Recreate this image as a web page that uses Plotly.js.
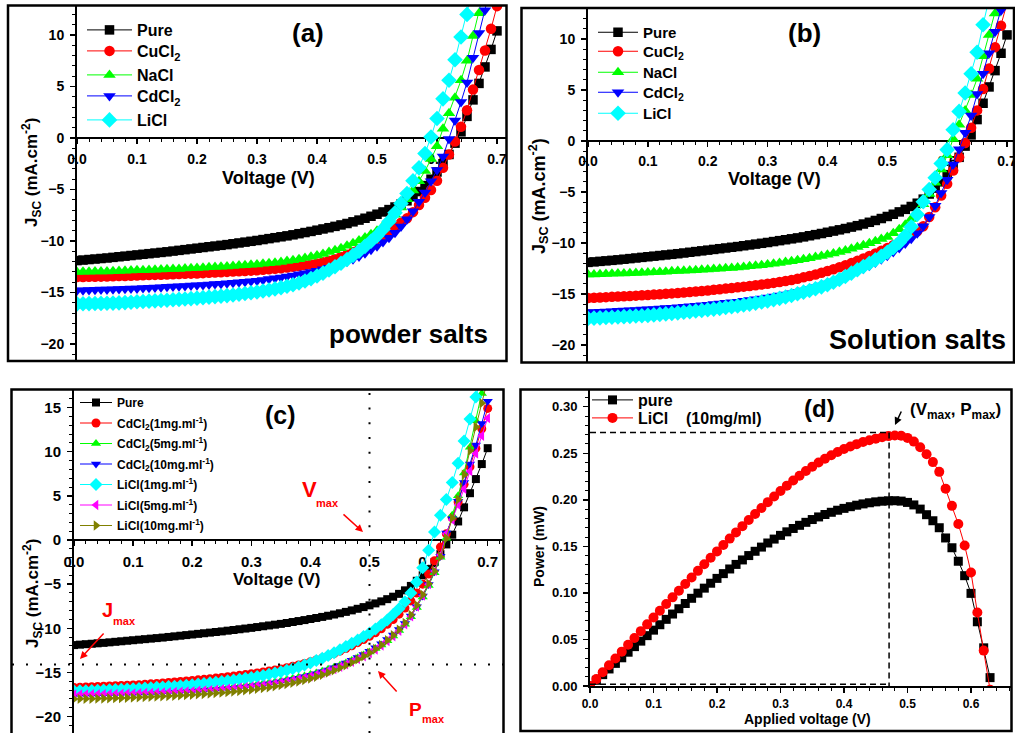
<!DOCTYPE html>
<html><head><meta charset="utf-8">
<script src="https://cdn.plot.ly/plotly-3.0.1.min.js"></script>
<style>body{margin:0;background:#fff}#chart{width:1015px;height:733px}</style>
</head><body><div id="chart"></div>
<script>
// ---------- DATA ----------
const voltage = [0.00,0.01,0.02,0.03,0.04,0.05,0.06,0.07,0.08,0.09,
 0.10,0.11,0.12,0.13,0.14,0.15,0.16,0.17,0.18,0.19,
 0.20,0.21,0.22,0.23,0.24,0.25,0.26,0.27,0.28,0.29,
 0.30,0.31,0.32,0.33,0.34,0.35,0.36,0.37,0.38,0.39,
 0.40,0.41,0.42,0.43,0.44,0.45,0.46,0.47,0.48,0.49,
 0.50,0.51,0.52,0.53,0.54,0.55,0.56,0.57,0.58,0.59,
 0.60,0.61,0.62,0.63,0.64,0.65,0.66,0.67,0.68,0.69,0.70];

const jPure = [-11.90,-11.85,-11.80,-11.75,-11.70,-11.65,-11.59,-11.53,-11.47,-11.41,
 -11.35,-11.29,-11.23,-11.17,-11.11,-11.05,-10.98,-10.91,-10.84,-10.77,
 -10.70,-10.63,-10.56,-10.49,-10.42,-10.35,-10.27,-10.19,-10.11,-10.03,
 -9.95,-9.86,-9.77,-9.68,-9.59,-9.50,-9.40,-9.29,-9.18,-9.07,
 -8.95,-8.83,-8.71,-8.58,-8.44,-8.30,-8.14,-7.97,-7.79,-7.60,
 -7.40,-7.18,-6.95,-6.70,-6.42,-6.10,-5.70,-5.20,-4.62,-4.00,
 -3.30,-2.50,-1.60,-0.50,0.60,2.10,3.70,5.30,6.90,8.60,10.40];

// (a) powder salts
const jPowderCuCl2 = [-13.50,-13.49,-13.48,-13.47,-13.46,-13.45,-13.43,-13.41,-13.39,-13.37,
 -13.35,-13.33,-13.31,-13.29,-13.27,-13.25,-13.23,-13.21,-13.19,-13.17,
 -13.15,-13.12,-13.09,-13.06,-13.03,-13.00,-12.97,-12.94,-12.91,-12.88,
 -12.85,-12.80,-12.75,-12.70,-12.65,-12.58,-12.51,-12.44,-12.36,-12.28,
 -12.19,-12.06,-11.92,-11.76,-11.56,-11.34,-11.08,-10.80,-10.50,-10.17,
 -9.82,-9.45,-9.06,-8.65,-8.23,-7.80,-7.20,-6.50,-5.80,-5.05,
 -4.15,-2.90,-1.60,-0.35,1.10,2.70,4.70,6.60,8.50,10.60,12.80];
const jPowderNaCl = [-13.00,-12.99,-12.98,-12.97,-12.96,-12.95,-12.93,-12.91,-12.89,-12.87,
 -12.85,-12.83,-12.81,-12.79,-12.77,-12.75,-12.73,-12.71,-12.68,-12.65,
 -12.62,-12.59,-12.56,-12.53,-12.50,-12.47,-12.43,-12.39,-12.35,-12.31,
 -12.27,-12.22,-12.16,-12.10,-12.03,-11.95,-11.86,-11.76,-11.65,-11.53,
 -11.40,-11.25,-11.08,-10.90,-10.70,-10.47,-10.22,-9.95,-9.66,-9.35,
 -9.00,-8.55,-8.05,-7.45,-6.75,-5.95,-5.10,-4.20,-3.20,-2.05,
 -0.80,0.90,2.40,3.90,5.60,7.50,9.90,12.10,14.50,17.00,19.50];
const jPowderCdCl2 = [-14.80,-14.78,-14.76,-14.74,-14.72,-14.70,-14.68,-14.66,-14.64,-14.62,
 -14.60,-14.57,-14.54,-14.51,-14.48,-14.45,-14.42,-14.39,-14.36,-14.33,
 -14.30,-14.26,-14.22,-14.18,-14.14,-14.10,-14.05,-14.00,-13.95,-13.90,
 -13.85,-13.78,-13.70,-13.62,-13.54,-13.45,-13.35,-13.24,-13.12,-13.00,
 -12.88,-12.75,-12.60,-12.42,-12.22,-12.00,-11.76,-11.50,-11.20,-10.86,
 -10.50,-10.10,-9.68,-9.20,-8.60,-7.90,-7.10,-6.20,-5.30,-4.20,
 -3.10,-1.80,-0.10,1.70,3.50,5.40,7.80,10.20,12.40,14.80,17.20];
const jPowderLiCl = [-16.10,-16.09,-16.08,-16.07,-16.06,-16.05,-16.03,-16.01,-15.98,-15.94,
 -15.90,-15.87,-15.84,-15.81,-15.78,-15.75,-15.71,-15.67,-15.63,-15.59,
 -15.55,-15.50,-15.45,-15.40,-15.35,-15.30,-15.24,-15.17,-15.10,-15.03,
 -14.95,-14.86,-14.76,-14.65,-14.53,-14.40,-14.25,-14.08,-13.88,-13.65,
 -13.40,-13.12,-12.82,-12.50,-12.16,-11.80,-11.40,-10.98,-10.52,-10.03,
 -9.50,-8.85,-8.10,-7.25,-6.35,-5.40,-4.15,-2.90,-1.50,0.10,
 1.90,3.80,5.60,7.60,9.80,12.00,14.30,16.60,19.00,21.40,23.80];

// (b) solution salts
const jSolCuCl2 = [-15.40,-15.37,-15.34,-15.31,-15.28,-15.25,-15.22,-15.19,-15.16,-15.13,
 -15.10,-15.06,-15.02,-14.98,-14.94,-14.90,-14.85,-14.80,-14.75,-14.70,
 -14.65,-14.59,-14.53,-14.47,-14.41,-14.35,-14.28,-14.21,-14.14,-14.07,
 -14.00,-13.91,-13.82,-13.72,-13.62,-13.50,-13.37,-13.23,-13.08,-12.92,
 -12.75,-12.57,-12.38,-12.18,-11.97,-11.75,-11.52,-11.28,-11.03,-10.77,
 -10.50,-10.22,-9.92,-9.60,-9.25,-8.85,-8.35,-7.45,-6.50,-5.35,
 -4.20,-2.90,-1.60,-0.20,1.30,3.00,5.10,7.10,9.20,11.30,13.50];
const jSolNaCl = [-13.10,-13.08,-13.06,-13.04,-13.02,-13.00,-12.98,-12.96,-12.94,-12.92,
 -12.90,-12.87,-12.84,-12.81,-12.78,-12.75,-12.72,-12.69,-12.66,-12.63,
 -12.60,-12.56,-12.52,-12.48,-12.44,-12.40,-12.35,-12.29,-12.23,-12.17,
 -12.10,-12.03,-11.95,-11.87,-11.79,-11.70,-11.60,-11.49,-11.38,-11.27,
 -11.15,-11.02,-10.88,-10.73,-10.57,-10.40,-10.22,-10.03,-9.83,-9.62,
 -9.40,-9.05,-8.65,-8.20,-7.65,-7.00,-6.20,-5.20,-4.10,-2.80,
 -1.40,0.20,1.60,3.00,4.50,6.10,8.30,10.40,12.50,14.70,17.00];
const jSolCdCl2 = [-16.80,-16.77,-16.74,-16.71,-16.68,-16.65,-16.62,-16.59,-16.56,-16.53,
 -16.50,-16.46,-16.42,-16.38,-16.34,-16.30,-16.25,-16.20,-16.15,-16.10,
 -16.05,-15.99,-15.93,-15.87,-15.81,-15.75,-15.67,-15.59,-15.51,-15.43,
 -15.35,-15.25,-15.15,-15.04,-14.92,-14.80,-14.66,-14.51,-14.35,-14.17,
 -13.98,-13.77,-13.55,-13.31,-13.06,-12.80,-12.52,-12.23,-11.92,-11.60,
 -11.25,-10.88,-10.48,-10.05,-9.58,-9.05,-8.35,-7.45,-6.35,-5.10,
 -3.80,-2.30,-0.80,0.80,2.50,4.60,6.60,8.60,10.70,12.80,15.00];
const jSolLiCl = [-17.40,-17.37,-17.34,-17.31,-17.28,-17.25,-17.22,-17.19,-17.16,-17.13,
 -17.10,-17.05,-17.00,-16.95,-16.90,-16.85,-16.79,-16.73,-16.67,-16.61,
 -16.55,-16.48,-16.41,-16.33,-16.25,-16.17,-16.08,-15.99,-15.89,-15.79,
 -15.68,-15.56,-15.43,-15.29,-15.14,-14.98,-14.82,-14.65,-14.48,-14.30,
 -14.10,-13.85,-13.58,-13.28,-12.95,-12.62,-12.30,-11.98,-11.65,-11.30,
 -10.90,-10.45,-9.95,-9.30,-8.40,-7.20,-5.95,-4.75,-3.60,-2.20,
 -0.85,1.10,2.90,4.70,6.60,8.70,11.40,14.00,16.50,19.00,21.50];

// (c) concentration series
const jCdCl2_1 = [-16.70,-16.68,-16.65,-16.62,-16.59,-16.56,-16.53,-16.50,-16.47,-16.45,
 -16.42,-16.38,-16.34,-16.29,-16.24,-16.19,-16.14,-16.08,-16.02,-15.96,
 -15.90,-15.84,-15.78,-15.71,-15.64,-15.57,-15.49,-15.41,-15.33,-15.24,
 -15.15,-15.05,-14.95,-14.84,-14.72,-14.60,-14.46,-14.31,-14.15,-13.98,
 -13.80,-13.59,-13.37,-13.13,-12.87,-12.59,-12.29,-11.97,-11.63,-11.27,
 -10.90,-10.50,-10.05,-9.55,-9.00,-8.40,-7.70,-6.90,-6.00,-5.00,
 -3.85,-2.35,-0.80,0.70,2.50,4.30,6.30,8.30,10.40,12.60,14.90];
const jCdCl2_5 = [-17.30,-17.29,-17.28,-17.27,-17.26,-17.25,-17.24,-17.23,-17.21,-17.19,
 -17.17,-17.15,-17.13,-17.11,-17.09,-17.07,-17.04,-17.01,-16.98,-16.95,
 -16.92,-16.88,-16.84,-16.80,-16.75,-16.70,-16.65,-16.59,-16.53,-16.46,
 -16.39,-16.31,-16.23,-16.14,-16.04,-15.93,-15.81,-15.68,-15.54,-15.39,
 -15.23,-15.05,-14.86,-14.65,-14.42,-14.18,-13.92,-13.64,-13.34,-13.02,
 -12.68,-12.30,-11.88,-11.40,-10.86,-10.25,-9.55,-8.70,-7.65,-6.45,
 -5.15,-3.70,-1.95,0.20,2.80,5.00,7.60,10.50,13.50,16.60,19.70];
const jCdCl2_10 = [-17.60,-17.59,-17.58,-17.57,-17.56,-17.55,-17.54,-17.52,-17.50,-17.48,
 -17.46,-17.44,-17.42,-17.40,-17.37,-17.34,-17.31,-17.28,-17.25,-17.21,
 -17.17,-17.13,-17.08,-17.03,-16.98,-16.93,-16.87,-16.81,-16.74,-16.67,
 -16.59,-16.50,-16.41,-16.31,-16.20,-16.08,-15.95,-15.81,-15.66,-15.50,
 -15.33,-15.14,-14.93,-14.71,-14.47,-14.21,-13.93,-13.63,-13.31,-12.97,
 -12.60,-12.20,-11.76,-11.28,-10.75,-10.15,-9.45,-8.60,-7.55,-6.35,
 -5.05,-3.60,-1.85,0.80,2.40,4.40,6.50,8.60,10.75,13.20,15.70];
const jLiCl_1 = [-17.10,-17.08,-17.06,-17.04,-17.02,-17.00,-16.97,-16.94,-16.91,-16.88,
 -16.85,-16.81,-16.77,-16.73,-16.69,-16.65,-16.60,-16.55,-16.50,-16.44,
 -16.38,-16.32,-16.25,-16.18,-16.11,-16.03,-15.95,-15.86,-15.77,-15.67,
 -15.57,-15.46,-15.34,-15.21,-15.07,-14.92,-14.76,-14.58,-14.38,-14.16,
 -13.92,-13.66,-13.38,-13.08,-12.76,-12.42,-12.06,-11.70,-11.32,-10.93,
 -10.52,-10.08,-9.60,-9.05,-8.45,-7.80,-7.00,-6.00,-4.75,-3.15,
 -1.15,0.90,2.80,4.60,6.50,8.70,11.20,13.70,16.20,18.70,21.20];
const jLiCl_5 = [-17.50,-17.49,-17.48,-17.47,-17.46,-17.45,-17.44,-17.43,-17.41,-17.39,
 -17.37,-17.35,-17.33,-17.31,-17.29,-17.27,-17.24,-17.21,-17.18,-17.15,
 -17.12,-17.08,-17.04,-17.00,-16.95,-16.90,-16.85,-16.79,-16.73,-16.66,
 -16.59,-16.51,-16.43,-16.34,-16.24,-16.13,-16.01,-15.88,-15.74,-15.59,
 -15.43,-15.25,-15.05,-14.84,-14.61,-14.36,-14.09,-13.80,-13.49,-13.16,
 -12.80,-12.40,-11.95,-11.45,-10.90,-10.28,-9.55,-8.65,-7.55,-6.30,
 -5.00,-3.50,-1.70,0.70,2.30,4.00,5.80,7.80,9.80,11.80,13.80];
const jLiCl_10 = [-18.00,-17.99,-17.98,-17.97,-17.96,-17.95,-17.93,-17.91,-17.89,-17.87,
 -17.85,-17.82,-17.79,-17.76,-17.73,-17.70,-17.67,-17.64,-17.60,-17.56,
 -17.52,-17.48,-17.44,-17.39,-17.34,-17.29,-17.23,-17.17,-17.10,-17.03,
 -16.95,-16.86,-16.77,-16.67,-16.56,-16.44,-16.31,-16.17,-16.02,-15.86,
 -15.68,-15.48,-15.26,-15.02,-14.76,-14.48,-14.18,-13.86,-13.52,-13.16,
 -12.78,-12.35,-11.88,-11.35,-10.78,-10.15,-9.40,-8.50,-7.40,-6.20,
 -4.95,-3.55,-1.90,0.20,2.50,4.60,7.40,10.10,12.80,15.50,18.20];

// (d) power curves (0.00 .. 0.63 V)
const powerVoltage = voltage.slice(0, 64);
const powerPure = [0.0000,0.0061,0.0122,0.0183,0.0243,0.0303,0.0363,0.0423,0.0482,0.0541,
 0.0600,0.0658,0.0716,0.0773,0.0830,0.0886,0.0942,0.0997,0.1051,0.1104,
 0.1156,0.1207,0.1257,0.1306,0.1354,0.1401,0.1447,0.1492,0.1536,0.1578,
 0.1618,0.1656,0.1692,0.1726,0.1758,0.1788,0.1816,0.1842,0.1866,0.1888,
 0.1908,0.1926,0.1942,0.1956,0.1968,0.1978,0.1985,0.1989,0.1990,0.1986,
 0.1972,0.1945,0.1900,0.1840,0.1775,0.1700,0.1590,0.1485,0.1340,0.1185,
 0.0995,0.0690,0.0410,0.0090];
const powerLiCl = [0.0000,0.0074,0.0148,0.0222,0.0296,0.0369,0.0443,0.0516,0.0589,0.0662,
 0.0735,0.0808,0.0880,0.0952,0.1024,0.1095,0.1166,0.1237,0.1307,0.1377,
 0.1446,0.1515,0.1583,0.1650,0.1717,0.1783,0.1848,0.1912,0.1975,0.2036,
 0.2095,0.2152,0.2207,0.2259,0.2309,0.2356,0.2400,0.2441,0.2479,0.2514,
 0.2545,0.2573,0.2598,0.2620,0.2640,0.2657,0.2672,0.2684,0.2690,0.2688,
 0.2665,0.2625,0.2565,0.2490,0.2405,0.2300,0.2120,0.1935,0.1740,0.1510,
 0.1220,0.0790,0.0380,-0.0040];
const vMax = 0.471, pMax = 0.2722;
const jMaxLine = -14.1, vMaxLine = 0.5;

// ---------- LAYOUT HELPERS ----------
const W = 1015, H = 733;
const px = v => v / W, py = v => 1 - v / H;
const FONT = 'Liberation Sans, Arial, Helvetica, sans-serif';
const bold = (size, color) => ({family: FONT, size: size, color: color || '#000', weight: 'bold'});

// panel pixel geometry (plot area) and calibration
const G = {
  a: {l: 77, r: 506, t: 6, b: 361, x0: 77, xs: 600, y0: 138, ys: 10.3},
  b: {l: 588, r: 1014, t: 8, b: 362, x0: 588, xs: 598.6, y0: 141, ys: 10.2},
  c: {l: 74, r: 503, t: 390, b: 733, x0: 74, xs: 591, y0: 540, ys: 8.83},
  d: {l: 590, r: 1011, t: 390, b: 686, x0: 590, xs: 635, y0: 686, ys: 931}
};
function xRange(g) { return [(g.l - g.x0) / g.xs, (g.r - g.x0) / g.xs]; }
function yRange(g) { return [(g.y0 - g.b) / g.ys, (g.y0 - g.t) / g.ys]; }

function xAxisCfg(g, free, tf, minor, fs, so) {
  const c = {
    domain: [px(g.l), px(g.r)], range: xRange(g), showline: true, linewidth: 2, linecolor: '#000',
    ticks: 'outside', ticklen: 5, tickwidth: 1.5, tickcolor: '#000', dtick: 0.1, tick0: 0, tickformat: tf,
    tickfont: bold(fs), showgrid: false, zeroline: false, layer: 'below traces', ticklabelstandoff: so,
    ticklabeloverflow: 'allow',
    minor: {dtick: minor, ticklen: 3, tickwidth: 1, ticks: 'outside', tickcolor: '#000', showgrid: false}
  };
  if (free) { c.anchor = 'free'; c.position = py(g.y0); }
  return c;
}
function yAxisCfg(g, dt, tf, minor, fs) {
  return {
    domain: [py(g.b), py(g.t)], range: yRange(g), showline: true, linewidth: 2, linecolor: '#000',
    ticks: 'outside', ticklen: 5, tickwidth: 1.5, tickcolor: '#000', dtick: dt, tick0: 0, tickformat: tf,
    tickfont: bold(fs), showgrid: false, zeroline: false, layer: 'below traces', ticklabelstandoff: 3,
    ticklabeloverflow: 'allow',
    minor: {dtick: minor, ticklen: 3, tickwidth: 1, ticks: 'outside', tickcolor: '#000', showgrid: false}
  };
}

function tr(x, y, name, sym, color, size, ax, leg, grp) {
  return {
    type: 'scatter', mode: 'lines+markers', x: x, y: y, name: name,
    xaxis: 'x' + ax, yaxis: 'y' + ax, legend: leg, legendgroup: grp || name,
    line: {color: color, width: 1},
    marker: {symbol: sym, color: color, size: size, line: {width: 0}}
  };
}

const traces = [
  // (a)
  tr(voltage, jPure, 'Pure', 'square', '#000000', 9.5, '', 'legend', 'a1'),
  tr(voltage, jPowderCuCl2, 'CuCl<sub>2</sub>', 'circle', '#ff0000', 10.5, '', 'legend6', 'a2'),
  tr(voltage, jPowderNaCl, 'NaCl', 'triangle-up', '#00ff00', 11, '', 'legend7', 'a3'),
  tr(voltage, jPowderCdCl2, 'CdCl<sub>2</sub>', 'triangle-down', '#0000ff', 11, '', 'legend8', 'a4'),
  tr(voltage, jPowderLiCl, 'LiCl', 'diamond', '#00ffff', 12, '', 'legend9', 'a5'),
  // (b)
  tr(voltage, jPure, 'Pure', 'square', '#000000', 9.5, '2', 'legend2', 'b1'),
  tr(voltage, jSolCuCl2, 'CuCl<sub>2</sub>', 'circle', '#ff0000', 10.5, '2', 'legend10', 'b2'),
  tr(voltage, jSolNaCl, 'NaCl', 'triangle-up', '#00ff00', 11, '2', 'legend11', 'b3'),
  tr(voltage, jSolCdCl2, 'CdCl<sub>2</sub>', 'triangle-down', '#0000ff', 11, '2', 'legend12', 'b4'),
  tr(voltage, jSolLiCl, 'LiCl', 'diamond', '#00ffff', 12, '2', 'legend13', 'b5'),
  // (c)
  tr(voltage, jPure, 'Pure', 'square', '#000000', 8, '3', 'legend3', 'c1'),
  tr(voltage, jCdCl2_1, 'CdCl<sub>2</sub>(1mg.ml<sup>-1</sup>)', 'circle', '#ff0000', 9, '3', 'legend3', 'c2'),
  tr(voltage, jCdCl2_5, 'CdCl<sub>2</sub>(5mg.ml<sup>-1</sup>)', 'triangle-up', '#00ff00', 9, '3', 'legend3', 'c3'),
  tr(voltage, jCdCl2_10, 'CdCl<sub>2</sub>(10mg.ml<sup>-1</sup>)', 'triangle-down', '#0000ff', 9, '3', 'legend3', 'c4'),
  tr(voltage, jLiCl_1, 'LiCl(1mg.ml<sup>-1</sup>)', 'diamond', '#00ffff', 10, '3', 'legend3', 'c5'),
  tr(voltage, jLiCl_5, 'LiCl(5mg.ml<sup>-1</sup>)', 'triangle-left', '#ff00ff', 9, '3', 'legend3', 'c6'),
  tr(voltage, jLiCl_10, 'LiCl(10mg.ml<sup>-1</sup>)', 'triangle-right', '#808000', 9, '3', 'legend3', 'c7'),
  // (d)
  tr(powerVoltage, powerPure, 'pure', 'square', '#000000', 9, '4', 'legend4', 'd1'),
  tr(powerVoltage, powerLiCl, 'LiCl\u00a0\u00a0\u00a0\u00a0(10mg/ml)', 'circle', '#ff0000', 10, '4', 'legend5', 'd2')
];

function legendCfg(xpx, ypx, fs, iw, gap) {
  return {x: px(xpx), y: py(ypx), xanchor: 'left', yanchor: 'top', font: bold(fs),
    bgcolor: 'rgba(0,0,0,0)', borderwidth: 0, itemwidth: iw, tracegroupgap: gap || 0,
    traceorder: 'grouped', itemclick: false};
}

function frame(x0, y0, x1, y1) {
  return {type: 'rect', xref: 'paper', yref: 'paper', x0: px(x0), x1: px(x1), y0: py(y1), y1: py(y0),
    line: {color: '#000', width: 2.5}, fillcolor: 'rgba(0,0,0,0)', layer: 'above'};
}

const shapes = [
  frame(8, 5.5, 506.5, 361), frame(521.5, 8, 1014, 362.5),
  frame(11.5, 389.5, 503.5, 745), frame(520.5, 389.5, 1011.5, 731),
  // (c) dotted guide lines
  {type: 'line', xref: 'paper', yref: 'y3', x0: px(12), x1: px(503), y0: jMaxLine, y1: jMaxLine,
   line: {color: '#000', width: 2, dash: '2px,12px'}},
  {type: 'line', xref: 'x3', yref: 'paper', x0: vMaxLine, x1: vMaxLine, y0: py(733), y1: py(392),
   line: {color: '#000', width: 2, dash: '2px,12.7px'}},
  // (d) dashed guide lines
  {type: 'line', xref: 'x4', yref: 'y4', x0: 0, x1: vMax, y0: pMax, y1: pMax, line: {color: '#000', width: 1.5, dash: '6px,4px'}},
  {type: 'line', xref: 'x4', yref: 'y4', x0: vMax, x1: vMax, y0: pMax, y1: 0, line: {color: '#000', width: 1.5, dash: '6px,4px'}},
  {type: 'line', xref: 'x4', yref: 'y4', x0: 0, x1: vMax, y0: 0.002, y1: 0.002, line: {color: '#000', width: 1.5, dash: '6px,4px'}}
];

function note(text, x, y, fs, color, opts) {
  return Object.assign({text: text, xref: 'paper', yref: 'paper', x: px(x), y: py(y),
    xanchor: 'center', yanchor: 'middle', showarrow: false, font: bold(fs, color)}, opts || {});
}
function arrow(x0, y0, x1, y1, color) {
  return {text: '', xref: 'paper', yref: 'paper', x: px(x1), y: py(y1), ax: x0 - x1, ay: y0 - y1,
    axref: 'pixel', ayref: 'pixel', showarrow: true, arrowhead: 2, arrowsize: 1, arrowwidth: 1.5,
    arrowcolor: color, standoff: 0, startstandoff: 0};
}
const JT = 'J<sub>SC</sub> (mA.cm<sup>-2</sup>)';
const RED = '#ff0000';
const annotations = [
  note('Voltage (V)', 268, 178, 18), note(JT, 32, 172, 17, null, {textangle: -90}),
  note('(a)', 308, 33, 26), note('powder salts', 408, 334, 26),
  note('Voltage (V)', 774, 178.5, 18), note(JT, 538, 196, 18, null, {textangle: -90}),
  note('(b)', 804, 33, 26), note('Solution salts', 917, 340, 27),
  note('Voltage (V)', 277, 579, 17), note(JT, 32, 593, 17, null, {textangle: -90}),
  note('(c)', 280, 415, 25),
  note('V', 309, 489, 22, RED), note('max', 327, 503, 11, RED),
  note('J', 107, 610, 20, RED), note('max', 124, 621, 11, RED),
  note('P', 415, 709, 19, RED), note('max', 433, 719, 11, RED),
  arrow(342, 513, 363, 532, RED), arrow(105, 632, 80, 659, RED), arrow(398, 693, 378, 671, RED),
  note('Applied voltage (V)', 807, 719, 14), note('Power (mW)', 539, 547, 14, null, {textangle: -90}),
  note('(d)', 819, 408, 24),
  note('(V<sub>max</sub>, P<sub>max</sub>)', 955, 411, 17),
  arrow(902, 410, 895, 425, '#000')
];

const layout = {
  width: W, height: H, margin: {l: 0, r: 0, t: 0, b: 0}, paper_bgcolor: '#fff', plot_bgcolor: 'rgba(0,0,0,0)',
  font: {family: FONT, color: '#000'}, showlegend: true,
  xaxis: xAxisCfg(G.a, true, '.1f', 0.02, 14, 3), yaxis: yAxisCfg(G.a, 5, 'd', 1, 14),
  xaxis2: xAxisCfg(G.b, true, '.1f', 0.02, 14, 2), yaxis2: yAxisCfg(G.b, 5, 'd', 1, 14),
  xaxis3: xAxisCfg(G.c, true, '.1f', 0.02, 15, 3), yaxis3: yAxisCfg(G.c, 5, 'd', 1, 15),
  xaxis4: xAxisCfg(G.d, false, '.1f', 0.02, 12, 1), yaxis4: yAxisCfg(G.d, 0.05, '.2f', 0.01, 13),
  // (a) legend entries
  legend: legendCfg(82, 13, 16, 45),
  legend6: legendCfg(82, 34, 16, 45),
  legend7: legendCfg(82, 58, 16, 45),
  legend8: legendCfg(82, 79, 16, 45),
  legend9: legendCfg(82, 103, 16, 45),
  // (b) legend entries
  legend2: legendCfg(593, 16, 15, 40),
  legend10: legendCfg(593, 35, 15, 40),
  legend11: legendCfg(593, 56, 15, 40),
  legend12: legendCfg(593, 76, 15, 40),
  legend13: legendCfg(593, 97, 15, 40),
  // (c), (d)
  legend3: legendCfg(75, 388, 12, 32, 1.5),
  legend4: legendCfg(587, 383, 16, 41),
  legend5: legendCfg(587, 401, 16, 41),
  shapes: shapes, annotations: annotations
};
layout.xaxis2.anchor = 'free'; layout.yaxis2.anchor = 'x2';
layout.xaxis3.anchor = 'free'; layout.yaxis3.anchor = 'x3';
layout.xaxis4.anchor = 'y4'; layout.yaxis4.anchor = 'x4';
layout.yaxis.anchor = 'x';

Plotly.newPlot('chart', traces, layout, {displayModeBar: false, staticPlot: true});
</script>
</body></html>
